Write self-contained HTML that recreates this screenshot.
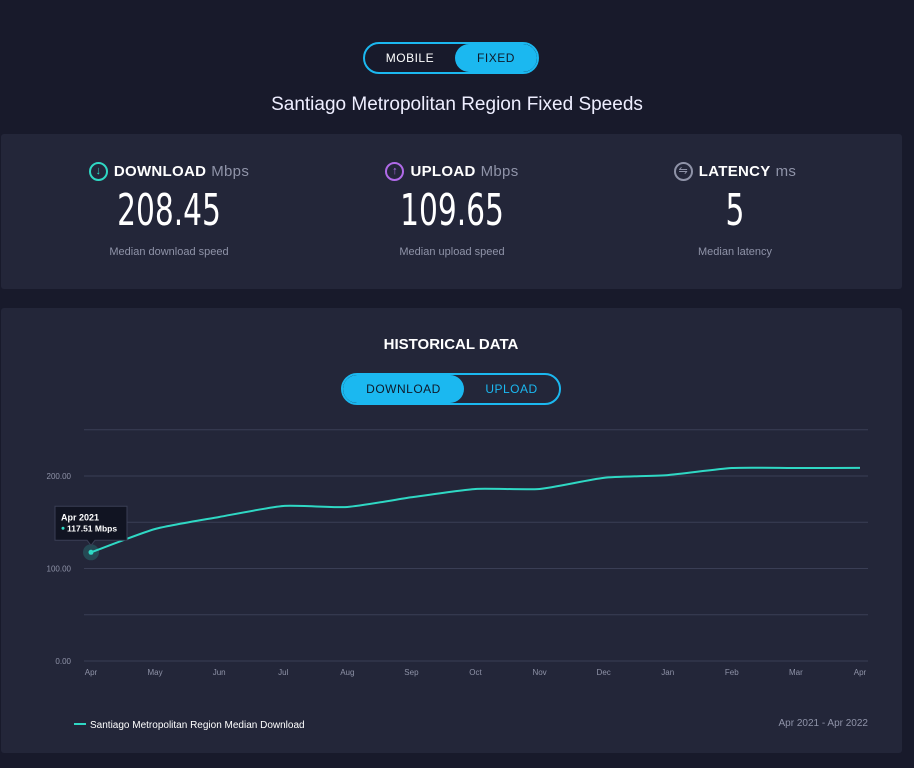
<!DOCTYPE html>
<html><head><meta charset="utf-8"><style>
body{margin:0;width:914px;height:768px;background:#181a2b;font-family:"Liberation Sans",sans-serif;color:#fff;position:relative;overflow:hidden}
.abs{position:absolute}
.toggle{border:2px solid #1bb8f0;border-radius:18px;display:flex;overflow:hidden;box-sizing:border-box}
.toggle div{text-align:center;font-size:12px;letter-spacing:.5px}
.panel{background:#232639;border-radius:3px}
.stat{text-align:center;width:260px}
.stat .h{font-size:15px;font-weight:bold;letter-spacing:.3px;display:flex;align-items:center;justify-content:center}
.stat .h span.u{color:#8f93a8;font-weight:normal;margin-left:5px}
.stat .v{font-size:44px;font-weight:100;transform:scaleX(.75);margin-top:4px;font-family:"DejaVu Sans Condensed","Liberation Sans Narrow",sans-serif}
.stat .s{font-size:11px;color:#8f93a8;margin-top:10px}
.ic{display:inline-block;width:15px;height:15px;border:2px solid;border-radius:50%;font-size:11px;line-height:15px;margin-right:6px;text-align:center;font-weight:normal}
</style></head><body>
<div class="abs toggle" style="left:363px;top:42px;width:176px;height:32px">
<div style="width:92px;line-height:28px;color:#fff">MOBILE</div>
<div style="width:84px;line-height:28px;background:#1bb8f0;color:#0e1a2a;border-radius:16px">FIXED</div>
</div>
<div class="abs" style="left:0;width:914px;top:94px;text-align:center;font-size:19px;color:#eef">Santiago Metropolitan Region Fixed Speeds</div>
<div class="abs panel" style="left:1px;top:134px;width:901px;height:155px">
<div class="abs stat" style="left:38px;top:28px"><div class="h"><span class="ic" style="border-color:#2fd8c4;color:#2fd8c4">↓</span>DOWNLOAD<span class="u">Mbps</span></div><div class="v">208.45</div><div class="s">Median download speed</div></div>
<div class="abs stat" style="left:321px;top:28px"><div class="h"><span class="ic" style="border-color:#b06ae8;color:#b06ae8">↑</span>UPLOAD<span class="u">Mbps</span></div><div class="v">109.65</div><div class="s">Median upload speed</div></div>
<div class="abs stat" style="left:604px;top:28px"><div class="h"><span class="ic" style="border-color:#8f93a8;color:#8f93a8">⇋</span>LATENCY<span class="u">ms</span></div><div class="v">5</div><div class="s">Median latency</div></div>
</div>
<div class="abs panel" style="left:1px;top:308px;width:901px;height:445px"></div>
<div class="abs" style="left:0;width:902px;top:336px;text-align:center;font-size:15px;font-weight:bold">HISTORICAL DATA</div>
<div class="abs toggle" style="left:341px;top:373px;width:220px;height:32px">
<div style="width:121px;line-height:28px;background:#1bb8f0;color:#0e1a2a;border-radius:16px">DOWNLOAD</div>
<div style="width:95px;line-height:28px;color:#1bb8f0">UPLOAD</div>
</div>
<svg class="abs" id="chart" style="left:0;top:0" width="914" height="768"></svg>
<div class="abs" style="left:74px;top:720px;font-size:10px;color:#fff"><span style="display:inline-block;width:12px;height:2px;background:#2fd8c4;vertical-align:3px;margin-right:4px"></span>Santiago Metropolitan Region Median Download</div>
<div class="abs" style="left:740px;width:128px;text-align:right;top:718px;font-size:10px;color:#8f93a8">Apr 2021 - Apr 2022</div>
<script>
const months=["Apr","May","Jun","Jul","Aug","Sep","Oct","Nov","Dec","Jan","Feb","Mar","Apr"];
const values=[117.51,142.7,155.7,167.6,166.5,177,186,186,198,201,208.6,208.6,208.8];
const yTicks=[0,50,100,150,200,250];
const yLabels=["0.00","","100.00","","200.00",""];
const svg=document.getElementById('chart');const NS="http://www.w3.org/2000/svg";
const x=i=>91+i*(860-91)/(months.length-1);
const y=v=>661-v*0.925;
function mk(t,a){const e=document.createElementNS(NS,t);for(const k in a)e.setAttribute(k,a[k]);svg.appendChild(e);return e;}
yTicks.forEach((t,i)=>{const g=mk('line',{x1:84,x2:868,y1:y(t),y2:y(t),stroke:'#3a3e55','stroke-width':1});

if(yLabels[i]){const l=mk('text',{x:71,y:y(t)+3,'text-anchor':'end','font-size':8,fill:'#8f93a8','font-family':'Liberation Sans'});l.textContent=yLabels[i];
}});
months.forEach((m,i)=>{const l=mk('text',{x:x(i),y:675,'text-anchor':'middle','font-size':8,fill:'#8f93a8','font-family':'Liberation Sans'});l.textContent=m;
});
const pts=values.map((v,i)=>[x(i),y(v)]);
let d='M'+pts[0][0]+','+pts[0][1];
for(let i=1;i<pts.length;i++){const p0=pts[Math.max(0,i-2)],p1=pts[i-1],p2=pts[i],p3=pts[Math.min(pts.length-1,i+1)];
const t=0.4/2;
const c1=[p1[0]+(p2[0]-p0[0])*t/ (i-2<0?1:2)*1,p1[1]+(p2[1]-p0[1])*t/(i-2<0?1:2)];
const c2=[p2[0]-(p3[0]-p1[0])*t/(i+1>pts.length-1?1:2),p2[1]-(p3[1]-p1[1])*t/(i+1>pts.length-1?1:2)];
d+=' C'+c1[0]+','+c1[1]+' '+c2[0]+','+c2[1]+' '+p2[0]+','+p2[1];}
const line=mk('path',{d:d,fill:'none',stroke:'#2fd8c4','stroke-width':2});

const h=mk('circle',{cx:pts[0][0],cy:pts[0][1],r:8,fill:'#2fd8c4','fill-opacity':0.2});

const pt=mk('circle',{cx:pts[0][0],cy:pts[0][1],r:2.5,fill:'#2fd8c4'});

const tx=pts[0][0],ty=pts[0][1];
const tb=mk('path',{d:`M${tx-36},${ty-46} h72 v34 h-32 l-4,5 l-4,-5 h-32 z`,fill:'#111422',stroke:'#3a3e55'});

const t1=mk('text',{x:tx-30,y:ty-32,'font-size':9,'font-weight':'bold',fill:'#fff','font-family':'Liberation Sans'});t1.textContent=months[0]+' 2021';

const t2=mk('text',{x:tx-24,y:ty-21,'font-size':8.5,'font-weight':'bold',fill:'#fff','font-family':'Liberation Sans'});t2.textContent=values[0].toFixed(2)+' Mbps';

const td=mk('circle',{cx:tx-28,cy:ty-24,r:1.5,fill:'#2fd8c4'});

</script>
</body></html>
